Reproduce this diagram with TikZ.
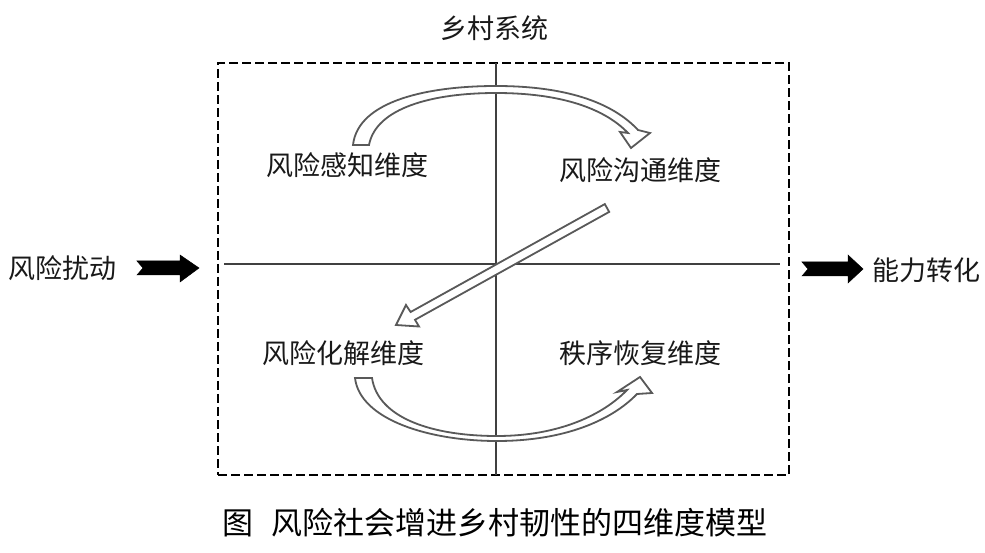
\documentclass[tikz,border=0pt]{standalone}
\usepackage{fontspec}
\setmainfont{Noto Sans CJK SC}
\begin{document}
\begin{tikzpicture}[x=1pt,y=-1pt,
  lbl/.style={font=\fontsize{27}{30}\selectfont, inner sep=0pt, text=black!90},
  captxt/.style={font=\fontsize{31}{34}\selectfont, inner sep=0pt},
  axis/.style={draw=black!75, line width=1.3pt},
  hollow/.style={draw=black!65, line width=1.8pt, fill=white, line join=miter},
  solidarrow/.style={fill=black, draw=black, line width=0.5pt, line join=miter}]
\useasboundingbox (0,0) rectangle (985,553);
\fill[white] (0,0) rectangle (985,553);

% frame and axes
\node[draw=black, line width=2.4pt, dash pattern=on 9pt off 4pt, minimum width=571pt, minimum height=412pt, inner sep=0pt] (frame) at (503.5,269) {};
\coordinate (vt) at (496,63);
\coordinate (vb) at (496,475);
\coordinate (hl) at (224,264);
\coordinate (hr) at (780,264);
\draw[axis] (vt) -- (vb);
\draw[axis] (hl) -- (hr);

% labels
\node[lbl] (sys) at (494,28) {乡村系统};
\node[lbl] (q1) at (347,165) {风险感知维度};
\node[lbl] (q2) at (640,170) {风险沟通维度};
\node[lbl] (q3) at (343,353) {风险化解维度};
\node[lbl] (q4) at (640,353) {秩序恢复维度};
\node[lbl] (in) at (63,268) {风险扰动};
\node[lbl] (out) at (926,270) {能力转化};
\node[captxt] (caption) at (495,523) {图\hspace{0.6em}风险社会增进乡村韧性的四维度模型};

% top curved hollow arrow
\draw[hollow] (353,145) .. controls (358,100) and (430,86) .. (496,86)
  .. controls (565,86) and (612,102) .. (638,130)
  -- (650,133) -- (631,148) -- (620,132) -- (628,133)
  .. controls (604,108) and (560,93) .. (496,93)
  .. controls (432,93) and (376,108) .. (369,145) -- cycle;

% bottom curved hollow arrow
\draw[hollow] (355,378) .. controls (360,420) and (430,441) .. (497,441)
  .. controls (565,441) and (612,420) .. (637,394)
  -- (652,393) -- (640,377) -- (617,392) -- (627,390)
  .. controls (604,414) and (560,436) .. (497,436)
  .. controls (432,436) and (378,418) .. (372,378) -- cycle;

% straight diagonal hollow arrow
\draw[hollow] (604.8,204.1) -- (609.2,211.9) -- (415.0,319.8) -- (419.0,326.5)
  -- (396,325) -- (406.0,305.0) -- (410.6,312.0) -- cycle;

% solid input / output arrows
\draw[solidarrow] (137,261) -- (180,261) -- (180,255) -- (199,268) -- (180,282) -- (180,275) -- (137,275) -- (143,268) -- cycle;
\draw[solidarrow] (802,262) -- (848,262) -- (848,255) -- (863,269) -- (848,283) -- (848,276) -- (802,276) -- (808,269) -- cycle;
\end{tikzpicture}
\end{document}
